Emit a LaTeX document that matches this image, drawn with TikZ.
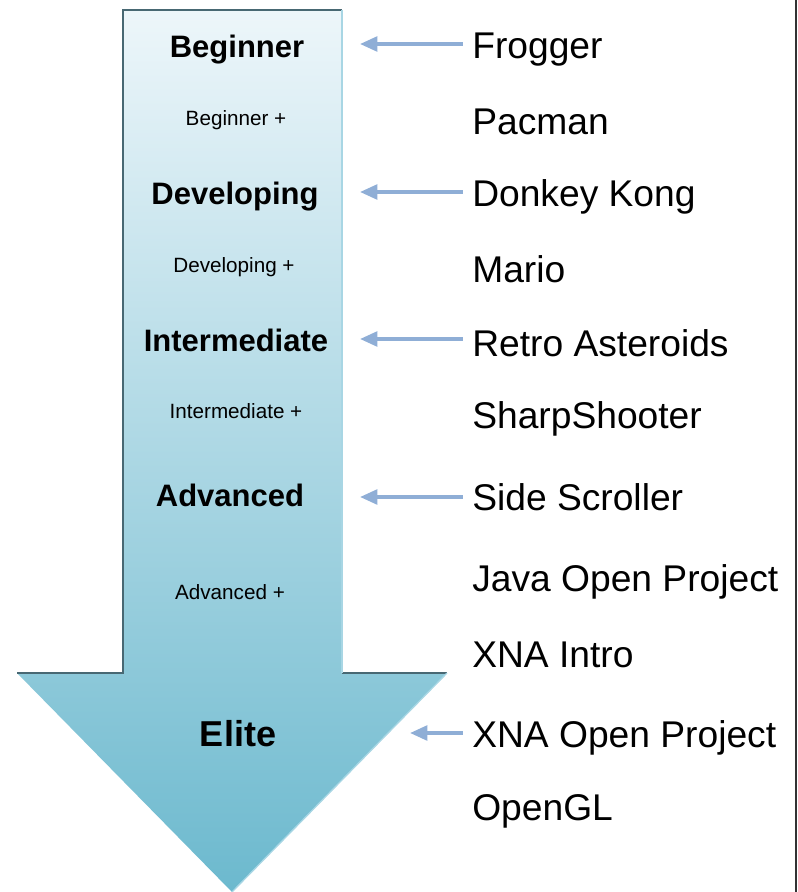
\documentclass[tikz,border=0pt]{standalone}
\usepackage{fontspec}
\setmainfont{Liberation Sans}
\usetikzlibrary{arrows.meta}
\definecolor{ShaftTop}{RGB}{237,246,250}
\definecolor{ShaftBottom}{RGB}{108,185,206}
\definecolor{EdgeDark}{RGB}{72,104,115}
\definecolor{EdgeLight}{RGB}{168,214,228}
\definecolor{PointerBlue}{RGB}{143,174,214}
\tikzstyle{levelname} = [inner sep=0pt, anchor=base, font=\fontsize{23.25}{28}\selectfont\bfseries]
\tikzstyle{sublevel} = [inner sep=0pt, anchor=base, font=\fontsize{15.5}{18}\selectfont]
\tikzstyle{gamename} = [inner sep=0pt, anchor=base west, font=\fontsize{27.9}{33}\selectfont]
\tikzstyle{pointer} = [line width=2.6pt, draw=PointerBlue, shorten <=7pt, -{Triangle[length=13pt,width=11pt]}]

\begin{document}
\begin{tikzpicture}[x=0.75pt, y=-0.75pt]
\useasboundingbox (0,0) rectangle (798,892);

% Grande flèche
\shade[top color=ShaftTop, bottom color=ShaftBottom] (123,10) -- (342,10) -- (342,673) -- (447,673) -- (232,892) -- (17,673) -- (123,673) -- cycle;
\draw[EdgeDark, line width=1.5pt] (17,673) -- (123,673) -- (123,10) -- (342,10);
\draw[EdgeDark, line width=1.5pt] (342,673) -- (447,673);
\draw[EdgeLight, line width=1.5pt] (342,10) -- (342,673);
\draw[EdgeLight, line width=1pt] (447,673) -- (232,892);
\draw[black!80, line width=1.5pt] (796,0) -- (796,892);

% Niveaux
\node (beginner) [levelname] at (237,58) {Beginner};
\node (beginnerplus) [sublevel] at (236,125) {Beginner +};
\node (developing) [levelname] at (235,204) {Developing};
\node (developingplus) [sublevel] at (234,272) {Developing +};
\node (intermediate) [levelname] at (236,351) {Intermediate};
\node (intermediateplus) [sublevel] at (236,418) {Intermediate +};
\node (advanced) [levelname] at (230,506) {Advanced};
\node (advancedplus) [sublevel] at (230,599) {Advanced +};
\node (elite) [levelname, font=\fontsize{27}{32}\selectfont\bfseries] at (238,746) {Elite};

% Jeux
\node (frogger) [gamename] at (472,58.5) {Frogger};
\node (pacman) [gamename] at (472,134.5) {Pacman};
\node (donkeykong) [gamename] at (472,206.5) {Donkey Kong};
\node (mario) [gamename] at (472,282.5) {Mario};
\node (asteroids) [gamename] at (472,356.5) {Retro Asteroids};
\node (sharpshooter) [gamename] at (472,428.5) {SharpShooter};
\node (sidescroller) [gamename] at (472,510.5) {Side Scroller};
\node (javaopen) [gamename] at (472,591.5) {Java Open Project};
\node (xnaintro) [gamename] at (472,667.5) {XNA Intro};
\node (xnaopen) [gamename] at (472,747.5) {XNA Open Project};
\node (opengl) [gamename] at (472,820.5) {OpenGL};

% Flèches
\coordinate (tipbeginner) at (360,44);
\coordinate (tipdeveloping) at (360,192);
\coordinate (tipintermediate) at (360,339);
\coordinate (tipadvanced) at (360,497);
\coordinate (tipelite) at (410,733);
\draw [pointer] (tipbeginner -| frogger.west) -- (tipbeginner);
\draw [pointer] (tipdeveloping -| donkeykong.west) -- (tipdeveloping);
\draw [pointer] (tipintermediate -| asteroids.west) -- (tipintermediate);
\draw [pointer] (tipadvanced -| sidescroller.west) -- (tipadvanced);
\draw [pointer] (tipelite -| xnaopen.west) -- (tipelite);

\end{tikzpicture}
\end{document}
